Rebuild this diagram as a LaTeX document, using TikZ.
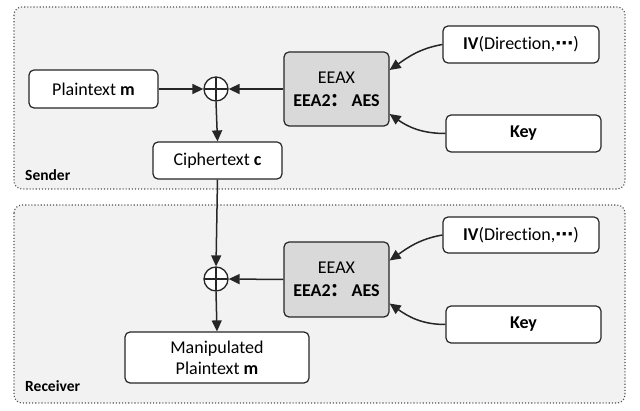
\documentclass[tikz,border=0pt]{standalone}
\usepackage{fontspec}
\setmainfont{Carlito}[Ligatures={NoCommon}]
\newfontfamily\cjk{Noto Sans CJK SC}
\newfontfamily\dejavu{DejaVu Sans}
\usetikzlibrary{arrows.meta,positioning}
\definecolor{panelfill}{HTML}{F2F2F2}
\definecolor{encfill}{HTML}{D9D9D9}
\definecolor{edge}{HTML}{262626}
\tikzset{
  panel/.style={draw=edge!80, dotted, line width=1.1pt, fill=panelfill, rounded corners=8pt},
  wbox/.style={draw=edge, line width=1.2pt, fill=white, rounded corners=5pt, inner sep=0pt,
    font=\fontsize{18}{21}\selectfont, align=center},
  encbox/.style={wbox, fill=encfill},
  xorsym/.style={circle, draw=edge, line width=1.3pt, minimum size=24pt, inner sep=0pt, fill=white,
    path picture={\draw[edge, line width=1.3pt] (path picture bounding box.north) -- (path picture bounding box.south)
      (path picture bounding box.west) -- (path picture bounding box.east);}},
  arr/.style={draw=edge, line width=1.5pt, -{Triangle[length=11pt,width=10pt]}},
  lbl/.style={font=\fontsize{15.5}{18}\selectfont\bfseries, anchor=base west, inner sep=0pt},
}
\begin{document}
\begin{tikzpicture}[x=1pt,y=-1pt]
\useasboundingbox (0,0) rectangle (640,411);
% panels
\draw[panel] (14,7) rectangle (625,189);
\draw[panel] (14,205) rectangle (625,403);
\node[lbl] (sender) at (25,181) {Sender};
\node[lbl] (receiver) at (25,392) {Receiver};
% sender
\node[wbox, minimum width=129pt, minimum height=38pt] (pm) at (93.5,89) {Plaintext \textbf{m}};
\node[xorsym] (x1) at (216,89) {};
\node[encbox, minimum width=105pt, minimum height=74pt] (enc1) at (336.5,89) {EEAX\\[2pt]\textbf{EEA2{\cjk ：}\,AES}};
\node[wbox, minimum width=129pt, minimum height=37pt] (ct) at (217.5,160.5) {Ciphertext \textbf{c}};
\node[wbox, minimum width=156pt, minimum height=37pt] (iv1) at (521,44.5) {\textbf{IV}(Direction,{\dejavu\bfseries ⋯})};
\node[wbox, minimum width=155pt, minimum height=37pt] (key1) at (523.5,133.5) {\textbf{Key}};
% receiver
\node[xorsym] (x2) at (216,279) {};
\node[encbox, minimum width=105pt, minimum height=75pt] (enc2) at (336.5,279.5) {EEAX\\[2pt]\textbf{EEA2{\cjk ：}\,AES}};
\node[wbox, minimum width=184pt, minimum height=51pt] (mp) at (217,357.5) {Manipulated\\Plaintext \textbf{m}};
\node[wbox, minimum width=156pt, minimum height=36pt] (iv2) at (521,235) {\textbf{IV}(Direction,{\dejavu\bfseries ⋯})};
\node[wbox, minimum width=155pt, minimum height=37pt] (key2) at (523.5,324.5) {\textbf{Key}};
% connectors sender
\draw[arr] (pm.east) -- (x1.west);
\draw[arr] (enc1.west) -- (x1.east);
\draw[arr] (x1.south) -- (ct.north);
\draw[arr] (iv1.west) to[out=190,in=35] ([yshift=19pt]enc1.east);
\draw[arr] (key1.west) to[out=180,in=-35] ([yshift=-25pt]enc1.east);
% connectors receiver
\draw[arr] (ct.south) -- (x2.north);
\draw[arr] (enc2.west) -- (x2.east);
\draw[arr] (x2.south) -- (mp.north);
\draw[arr] (iv2.west) to[out=190,in=35] ([yshift=19pt]enc2.east);
\draw[arr] (key2.west) to[out=180,in=-35] ([yshift=-24pt]enc2.east);
\end{tikzpicture}
\end{document}
